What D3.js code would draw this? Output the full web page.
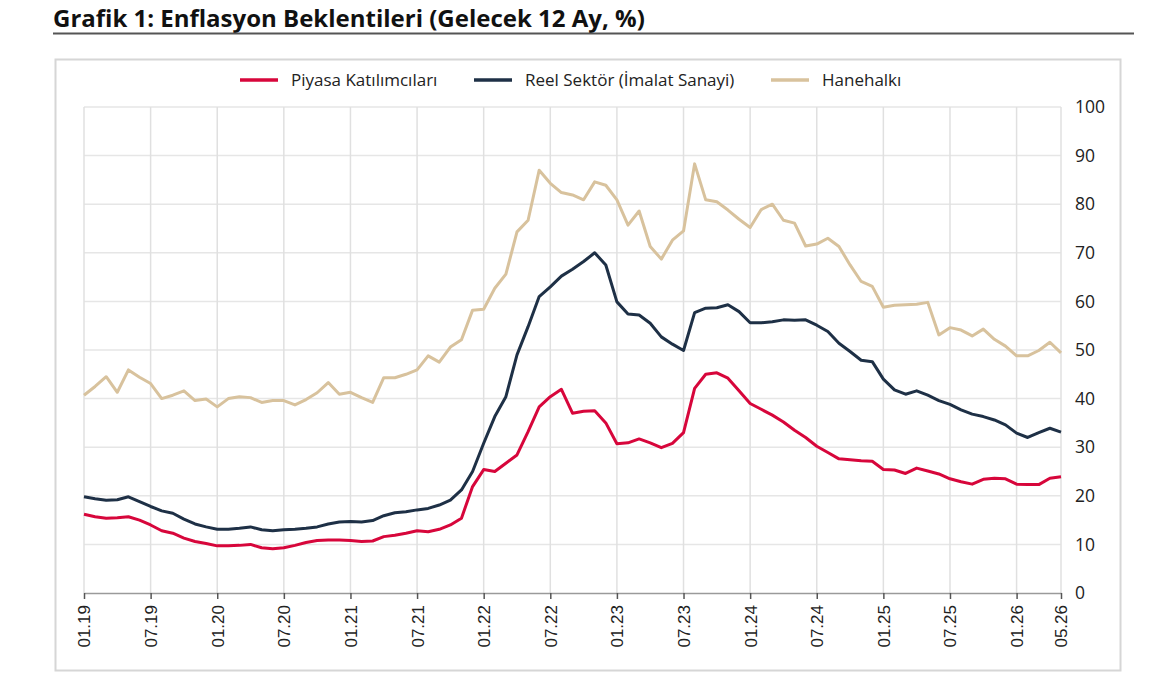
<!DOCTYPE html>
<html>
<head>
<meta charset="utf-8">
<script src="https://cdn.jsdelivr.net/npm/d3@7"></script>
<style>
  body { margin: 0; background: #fff; }
  .title { font-family: "Open Sans", sans-serif; font-weight: 700; font-size: 24px; fill: #111; }
  .legendText { font-family: "Open Sans", sans-serif; font-size: 17px; fill: #222; }
  .yAxis text { font-family: "Open Sans", sans-serif; font-size: 17.5px; fill: #222; }
  .xAxis text { font-family: "Liberation Sans", Arial, sans-serif; font-size: 17px; fill: #222; }
</style>
</head>
<body>
<div id="chart"></div>
<script>
var svgWidth = 1153;
var svgHeight = 681;

var margin = { top: 107, right: 92, bottom: 88, left: 84 };
var width = svgWidth - margin.left - margin.right;   // 977
var height = svgHeight - margin.top - margin.bottom; // 486

// Data (monthly, 01.19 .. 05.26)
var firstMonth = "01.19";
var tickLabels = ["01.19", "07.19", "01.20", "07.20", "01.21", "07.21", "01.22", "07.22",
  "01.23", "07.23", "01.24", "07.24", "01.25", "07.25", "01.26", "05.26"];
var yTicks = [0, 10, 20, 30, 40, 50, 60, 70, 80, 90, 100];

var seriesNames = ["Piyasa Katılımcıları", "Reel Sektör (İmalat Sanayi)", "Hanehalkı"];

var piyasa = [16.2, 15.7, 15.4, 15.5, 15.7, 15.0, 14.0, 12.8, 12.3, 11.3, 10.6, 10.2,
  9.7, 9.7, 9.8, 10.0, 9.3, 9.1, 9.3, 9.8, 10.4, 10.8, 10.9, 10.9,
  10.8, 10.6, 10.7, 11.6, 11.9, 12.3, 12.8, 12.6, 13.1, 14.0, 15.4, 21.9,
  25.4, 25.0, 26.7, 28.4, 33.2, 38.3, 40.4, 41.9, 37.0, 37.4, 37.5, 35.0,
  30.7, 30.9, 31.7, 30.9, 29.9, 30.8, 33.0, 42.1, 45.0, 45.3, 44.2, 41.6,
  39.0, 37.8, 36.6, 35.2, 33.5, 32.0, 30.2, 28.9, 27.6, 27.4, 27.2, 27.1,
  25.4, 25.3, 24.6, 25.7, 25.1, 24.5, 23.5, 22.9, 22.4, 23.4, 23.6, 23.5,
  22.4, 22.3, 22.3, 23.6, 23.9];

var reelSektor = [19.8, 19.4, 19.1, 19.2, 19.8, 18.8, 17.8, 16.9, 16.4, 15.2, 14.2, 13.6,
  13.1, 13.1, 13.3, 13.6, 13.0, 12.8, 13.0, 13.1, 13.3, 13.6, 14.2, 14.6,
  14.7, 14.6, 14.9, 15.9, 16.5, 16.7, 17.1, 17.4, 18.1, 19.1, 21.2, 25.0,
  30.8, 36.3, 40.4, 49.0, 54.8, 61.0, 63.0, 65.2, 66.6, 68.2, 70.0, 67.5,
  59.9, 57.4, 57.2, 55.5, 52.7, 51.2, 49.9, 57.7, 58.6, 58.7, 59.3, 57.9,
  55.6, 55.6, 55.8, 56.2, 56.1, 56.2, 55.1, 53.8, 51.4, 49.7, 47.9, 47.6,
  44.0, 41.8, 40.9, 41.6, 40.7, 39.6, 38.8, 37.7, 36.8, 36.3, 35.6, 34.6,
  32.9, 32.0, 33.0, 33.9, 33.1];

var hanehalki = [40.7, 42.5, 44.5, 41.3, 45.9, 44.4, 43.1, 40.0, 40.7, 41.6, 39.6, 39.9,
  38.3, 40.0, 40.4, 40.2, 39.2, 39.6, 39.6, 38.7, 39.8, 41.2, 43.3, 40.9,
  41.3, 40.2, 39.2, 44.3, 44.3, 45.0, 45.9, 48.8, 47.5, 50.6, 52.1, 58.2,
  58.4, 62.7, 65.6, 74.3, 76.7, 87.0, 84.3, 82.4, 81.9, 80.9, 84.6, 83.9,
  80.9, 75.7, 78.6, 71.3, 68.7, 72.6, 74.5, 88.3, 80.9, 80.5, 78.8, 76.9,
  75.2, 78.9, 80.0, 76.7, 76.1, 71.4, 71.8, 73.0, 71.3, 67.5, 64.1, 63.1,
  58.8, 59.2, 59.3, 59.4, 59.8, 53.1, 54.6, 54.1, 52.9, 54.3, 52.2, 50.8,
  48.8, 48.8, 49.9, 51.6, 49.4];

var colors = ["#d7063b", "#1e3046", "#d8c29d"];
var allSeries = [piyasa, reelSektor, hanehalki];

// month label "MM.YY" -> index from first month
function monthIndex(lbl) {
  var p = lbl.split("."), f = firstMonth.split(".");
  return (+p[1] - +f[1]) * 12 + (+p[0] - +f[0]);
}

var svg = d3.select("#chart")
  .append("svg")
  .attr("width", svgWidth)
  .attr("height", svgHeight);

// Title and rule
svg.append("text")
  .attr("class", "title")
  .attr("x", 53)
  .attr("y", 27)
  .text("Grafik 1: Enflasyon Beklentileri (Gelecek 12 Ay, %)");

svg.append("line")
  .attr("x1", 53).attr("x2", 1134)
  .attr("y1", 33.5).attr("y2", 33.5)
  .attr("stroke", "#555").attr("stroke-width", 2);

// Frame
svg.append("rect")
  .attr("x", 55.5).attr("y", 59.5)
  .attr("width", 1065).attr("height", 611)
  .attr("fill", "none")
  .attr("stroke", "#d6d6d6")
  .attr("stroke-width", 2);

var chartGroup = svg.append("g")
  .attr("transform", `translate(${margin.left}, ${margin.top})`);

var xScale = d3.scaleLinear()
  .domain([0, piyasa.length - 1])
  .range([0, width]);

var yScale = d3.scaleLinear()
  .domain([0, 100])
  .range([height, 0]);

// Grid lines
chartGroup.append("g")
  .selectAll("line")
  .data(yTicks.slice(1))
  .enter()
  .append("line")
  .attr("x1", 0).attr("x2", width)
  .attr("y1", d => yScale(d)).attr("y2", d => yScale(d))
  .attr("stroke", "#e6e6e6")
  .attr("stroke-width", 1.5);

chartGroup.append("g")
  .selectAll("line")
  .data(tickLabels)
  .enter()
  .append("line")
  .attr("x1", d => xScale(monthIndex(d))).attr("x2", d => xScale(monthIndex(d)))
  .attr("y1", 0).attr("y2", height)
  .attr("stroke", "#e0e0e0")
  .attr("stroke-width", 1.5);

// Axes
var bottomAxis = d3.axisBottom(xScale)
  .tickValues(tickLabels.map(monthIndex))
  .tickFormat((d, i) => tickLabels[i])
  .tickSize(6)
  .tickSizeOuter(0);

var xAxisG = chartGroup.append("g")
  .attr("class", "xAxis")
  .attr("transform", `translate(0, ${height})`)
  .call(bottomAxis);
xAxisG.select(".domain").attr("stroke", "#9a9a9a").attr("stroke-width", 1.5);
xAxisG.selectAll(".tick line").attr("stroke", "#555").attr("stroke-width", 1.5);
xAxisG.selectAll(".tick text")
  .attr("transform", "rotate(-90)")
  .attr("text-anchor", "end")
  .attr("x", -12)
  .attr("y", 0)
  .attr("dy", "0.35em");

var rightAxis = d3.axisRight(yScale)
  .tickValues(yTicks)
  .tickSize(0)
  .tickPadding(14);

var yAxisG = chartGroup.append("g")
  .attr("class", "yAxis")
  .attr("transform", `translate(${width}, 0)`)
  .call(rightAxis);
yAxisG.select(".domain").remove();

// Lines
var line = d3.line()
  .x((d, i) => xScale(i))
  .y(d => yScale(d));

chartGroup.selectAll(".series")
  .data(allSeries)
  .enter()
  .append("path")
  .attr("class", "series")
  .attr("d", d => line(d))
  .attr("fill", "none")
  .attr("stroke", (d, i) => colors[i])
  .attr("stroke-width", 3)
  .attr("stroke-linejoin", "round");

// Legend
var legendX = [240, 474, 771];
var legend = svg.append("g");
var items = legend.selectAll("g")
  .data(seriesNames)
  .enter()
  .append("g")
  .attr("transform", (d, i) => `translate(${legendX[i]}, 80)`);
items.append("line")
  .attr("x1", 0).attr("x2", 38)
  .attr("stroke", (d, i) => colors[i])
  .attr("stroke-width", 3.5);
items.append("text")
  .attr("class", "legendText")
  .attr("x", 51)
  .attr("dy", "0.35em")
  .text(d => d);
</script>
</body>
</html>
